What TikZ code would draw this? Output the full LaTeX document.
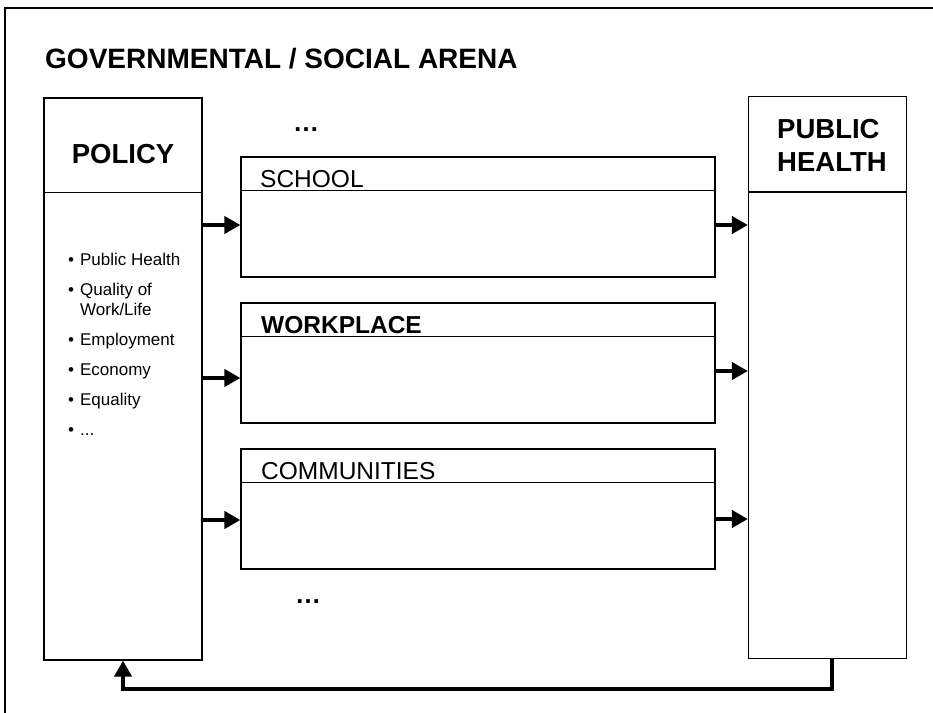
\documentclass[tikz,border=0pt]{standalone}
\usepackage{fontspec}
\setmainfont{Liberation Sans}
\usetikzlibrary{positioning, arrows.meta}

\begin{document}
\begin{tikzpicture}[x=1pt, y=-1pt, node distance=146pt, on grid,
    box/.style={draw, line width=1.2pt, minimum width=474pt, minimum height=120pt, inner sep=0pt},
    col/.style={draw, line width=1.2pt, minimum width=158pt, minimum height=562pt, inner sep=0pt},
    big/.style={font=\fontsize{27.5}{33}\selectfont\bfseries, inner sep=0pt},
    lab/.style={font=\fontsize{24.5}{28}\selectfont, anchor=base west, inner sep=0pt},
    dots/.style={font=\fontsize{26}{30}\selectfont\bfseries, inner sep=0pt},
    flow/.style={line width=4.5pt, -{Triangle[length=16pt,width=17pt]}}]
\clip (0,0) rectangle (933,712);
\draw[line width=1.2pt] (5,8) rectangle (945,725);

\node[big, anchor=base west, font=\fontsize{28}{33}\selectfont\bfseries] (arena) at (45,68) {GOVERNMENTAL / SOCIAL ARENA};

\node[col]                    (policy) at (123,379) {};
\node[col]                    (health) at (827.5,377.5) {};
\node[box]                    (school) at (478,217) {};
\node[box]                    (work) [below = of school] {};
\node[box]                    (comm) [below = of work] {};

\draw[line width=1.2pt] ([yshift=-95pt]policy.north west) -- ([yshift=-95pt]policy.north east);
\draw[line width=1.2pt] ([yshift=-96pt]health.north west) -- ([yshift=-96pt]health.north east);
\foreach \b in {school, work, comm}
    \draw[line width=1.2pt] ([yshift=-34pt]\b.north west) -- ([yshift=-34pt]\b.north east);

\node[big, anchor=base]       (policy-t) at (123,163) {POLICY};
\node[big, anchor=north west, align=left] (health-t) at (777,119) {PUBLIC\\HEALTH};
\node[lab]                    (school-t) at (260,187) {SCHOOL};
\node[lab, font=\fontsize{24.5}{28}\selectfont\bfseries] (work-t) at (261,333) {WORKPLACE};
\node[lab]                    (comm-t) at (261,479) {COMMUNITIES};

\node[dots] (more-top) at (306,130) {…};
\node[dots] (more-bot) at (308,602) {…};

% policy areas
\node[anchor=base west, inner sep=0pt, font=\fontsize{17}{20}\selectfont] (areas) at (68,265)
    {\begin{tabular}[t]{@{}l@{\hspace{6pt}}l@{}}
     \textbullet & Public Health\\[10pt]
     \textbullet & Quality of\\
                 & Work/Life\\[10pt]
     \textbullet & Employment\\[10pt]
     \textbullet & Economy\\[10pt]
     \textbullet & Equality\\[10pt]
     \textbullet & ...
     \end{tabular}};

\draw[flow] (policy.east |- 0,225) -- (school.west |- 0,225);
\draw[flow] (policy.east |- 0,378) -- (work.west |- 0,378);
\draw[flow] (policy.east |- 0,520) -- (comm.west |- 0,520);
\draw[flow] (school.east |- 0,225) -- (health.west |- 0,225);
\draw[flow] (work.east |- 0,371) -- (health.west |- 0,371);
\draw[flow] (comm.east |- 0,519) -- (health.west |- 0,519);
\draw[flow, line width=4pt] ([xshift=4pt]health.south) -- ++(0,30) -| (policy.south);
\end{tikzpicture}
\end{document}
